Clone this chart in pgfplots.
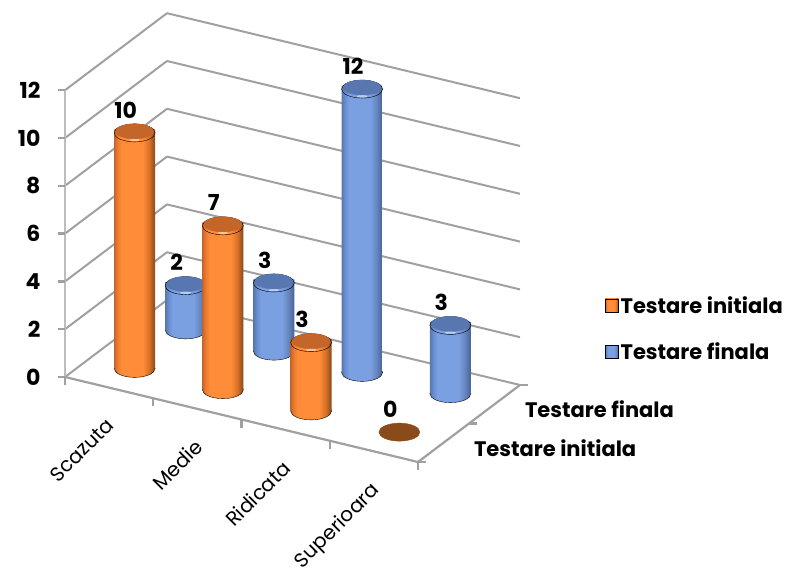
\documentclass[border=0pt]{standalone}
\usepackage{fontspec}
\setmainfont{Poppins}
\usepackage{pgfplots}
\pgfplotsset{compat=1.18}

\definecolor{wallgray}{HTML}{A0A0A0}
\definecolor{zaxisgray}{HTML}{BDBDBD}
\definecolor{orangetop}{HTML}{C4662A}
\definecolor{orangeA}{RGB}{236,124,48}
\definecolor{orangeB}{RGB}{255,140,56}
\definecolor{orangeC}{RGB}{214,112,38}
\definecolor{orangeD}{RGB}{132,72,28}
\definecolor{orangeZ}{RGB}{138,74,26}
\definecolor{bluetop}{HTML}{5877B0}
\definecolor{blueA}{RGB}{104,140,208}
\definecolor{blueB}{RGB}{122,160,226}
\definecolor{blueC}{RGB}{100,132,190}
\definecolor{blueD}{RGB}{70,98,146}

\pgfdeclarehorizontalshading{orangebar}{100bp}{
  color(0bp)=(orangetop);
  color(25bp)=(orangetop);
  color(29bp)=(orangeA);
  color(34bp)=(orangeB);
  color(60bp)=(orangeB);
  color(68bp)=(orangeC);
  color(75bp)=(orangeD);
  color(100bp)=(orangeD)}
\pgfdeclarehorizontalshading{bluebar}{100bp}{
  color(0bp)=(bluetop);
  color(25bp)=(bluetop);
  color(29bp)=(blueA);
  color(34bp)=(blueB);
  color(60bp)=(blueB);
  color(68bp)=(blueC);
  color(75bp)=(blueD);
  color(100bp)=(blueD)}

\pgfdeclareplotmark{baseO}{\shade[shading=orangebar] (0,0) ellipse (20.5pt and 9pt);}
\pgfdeclareplotmark{baseB}{\shade[shading=bluebar] (0,0) ellipse (20.5pt and 9pt);}
\pgfdeclareplotmark{topO}{%
  \shade[shading=orangebar] (0,0) ellipse (20.5pt and 9pt);
  \fill[orangetop] (0,1.5pt) ellipse (19pt and 7.5pt);
  \fill[white,opacity=.45] (0,-7.2pt) ellipse (5pt and .9pt);}
\pgfdeclareplotmark{topB}{%
  \shade[shading=bluebar] (0,0) ellipse (20.5pt and 9pt);
  \fill[bluetop] (0,1.5pt) ellipse (19pt and 7.5pt);
  \fill[white,opacity=.45] (0,-7.2pt) ellipse (5pt and .9pt);}
\pgfdeclareplotmark{zeroO}{\fill[orangeZ] (0,0) ellipse (20.5pt and 9pt);}
\pgfdeclareplotmark{tickL}{\draw[wallgray,line width=2.4pt] (0,0)--(-7pt,0);}
\pgfdeclareplotmark{tickD}{\draw[wallgray,line width=2.4pt] (0,0)--(0,-8pt);}
\pgfdeclareplotmark{tickR}{\draw[wallgray,line width=2.4pt] (0,0)--(8pt,0);}

\pgfplotsset{
  body/.style={draw=none,shade,forget plot},
  labelled/.style={
    only marks,forget plot,point meta=z,
    nodes near coords,
    nodes near coords style={
      anchor=center,xshift=-9pt,yshift=23pt,text=black,
      font=\fontsize{22}{22}\selectfont\bfseries,
      /pgf/number format/.cd,fixed,precision=0,assume math mode=true}},
  cap/.style={labelled,mark=#1,mark options={yshift=-3.5pt}},
  base/.style={only marks,forget plot,mark=#1},
  ticks/.style={only marks,forget plot,mark=#1},
}

\begin{document}
\begin{tikzpicture}
\path[use as bounding box] (0,0) rectangle (787pt,579pt);
\begin{axis}[
    at={(65pt,202pt)},
    anchor=origin,
    x={(88.25pt,-21.25pt)},
    y={(51pt,38.5pt)},
    z={(0pt,23.9pt)},
    xmin=0, xmax=4,
    ymin=0, ymax=2,
    zmin=0, zmax=12,
    clip=false,
    clip mode=individual,
    axis line style={draw=none},
    major tick length=0pt,
    xtick={0.5,1.5,2.5,3.5},
    xticklabels={Scazuta,Medie,Ridicata,Superioara},
    ytick={0.5,1.5},
    yticklabels={Testare initiala,Testare finala},
    ztick={0,2,...,12},
    zmajorgrids=true,
    major grid style={draw=wallgray,line width=2pt},
    xticklabel style={rotate=45,anchor=north east,xshift=-20pt,yshift=-14pt,
      font=\fontsize{20}{20}\selectfont},
    yticklabel style={anchor=west,xshift=27pt,yshift=-5pt,
      font=\fontsize{21}{21}\selectfont\bfseries},
    zticklabel style={anchor=east,xshift=-21pt,
      font=\fontsize{22}{22}\selectfont\bfseries,
      /pgf/number format/assume math mode=true},
    legend style={draw=none,fill=none,at={(1,0.5)},anchor=west,
      xshift=82pt,yshift=-91pt,
      row sep=24pt,font=\fontsize{21}{21}\selectfont\bfseries,
      legend cell align=left},
]
% floor edges and vertical axis
\addplot3[zaxisgray,line width=2.6pt,forget plot] coordinates {(0,0,0)(0,0,12)};
\addplot3[wallgray,line width=2.2pt,forget plot] coordinates {(0,0,0)(4,0,0)(4,2,0)};
\addplot3[ticks=tickL] coordinates {(0,0,0)(0,0,2)(0,0,4)(0,0,6)(0,0,8)(0,0,10)(0,0,12)};
\addplot3[ticks=tickD] coordinates {(0,0,0)(1,0,0)(2,0,0)(3,0,0)(4,0,0)};
\addplot3[ticks=tickR] coordinates {(4,0,0)(4,1,0)(4,2,0)};

% Testare finala (back row)
\addplot3[base=baseB] coordinates {(0.5,1.5,0)};
\addplot3[body,shading=bluebar] coordinates {(0.324,1.403,0)(0.676,1.597,0)(0.676,1.597,2)(0.324,1.403,2)};
\addplot3[cap=topB] coordinates {(0.5,1.5,2)};
\addplot3[base=baseB] coordinates {(1.5,1.5,0)};
\addplot3[body,shading=bluebar] coordinates {(1.324,1.403,0)(1.676,1.597,0)(1.676,1.597,3)(1.324,1.403,3)};
\addplot3[cap=topB] coordinates {(1.5,1.5,3)};
\addplot3[base=baseB] coordinates {(2.5,1.5,0)};
\addplot3[body,shading=bluebar] coordinates {(2.324,1.403,0)(2.676,1.597,0)(2.676,1.597,12)(2.324,1.403,12)};
\addplot3[cap=topB] coordinates {(2.5,1.5,12)};
\addplot3[base=baseB] coordinates {(3.5,1.5,0)};
\addplot3[body,shading=bluebar] coordinates {(3.324,1.403,0)(3.676,1.597,0)(3.676,1.597,3)(3.324,1.403,3)};
\addplot3[cap=topB] coordinates {(3.5,1.5,3)};

% Testare initiala (front row)
\addplot3[base=baseO] coordinates {(0.5,0.5,0)};
\addplot3[body,shading=orangebar] coordinates {(0.324,0.403,0)(0.676,0.597,0)(0.676,0.597,10)(0.324,0.403,10)};
\addplot3[cap=topO] coordinates {(0.5,0.5,10)};
\addplot3[base=baseO] coordinates {(1.5,0.5,0)};
\addplot3[body,shading=orangebar] coordinates {(1.324,0.403,0)(1.676,0.597,0)(1.676,0.597,7)(1.324,0.403,7)};
\addplot3[cap=topO] coordinates {(1.5,0.5,7)};
\addplot3[base=baseO] coordinates {(2.5,0.5,0)};
\addplot3[body,shading=orangebar] coordinates {(2.324,0.403,0)(2.676,0.597,0)(2.676,0.597,3)(2.324,0.403,3)};
\addplot3[cap=topO] coordinates {(2.5,0.5,3)};
\addplot3[labelled,mark=zeroO] coordinates {(3.5,0.5,0)};

\addlegendimage{legend image code/.code={
  \shade[shading=orangebar] (0pt,-6.5pt) rectangle (13pt,6.5pt);}}
\addlegendentry{Testare initiala}
\addlegendimage{legend image code/.code={
  \shade[shading=bluebar] (0pt,-6.5pt) rectangle (13pt,6.5pt);}}
\addlegendentry{Testare finala}
\end{axis}
\end{tikzpicture}
\end{document}
